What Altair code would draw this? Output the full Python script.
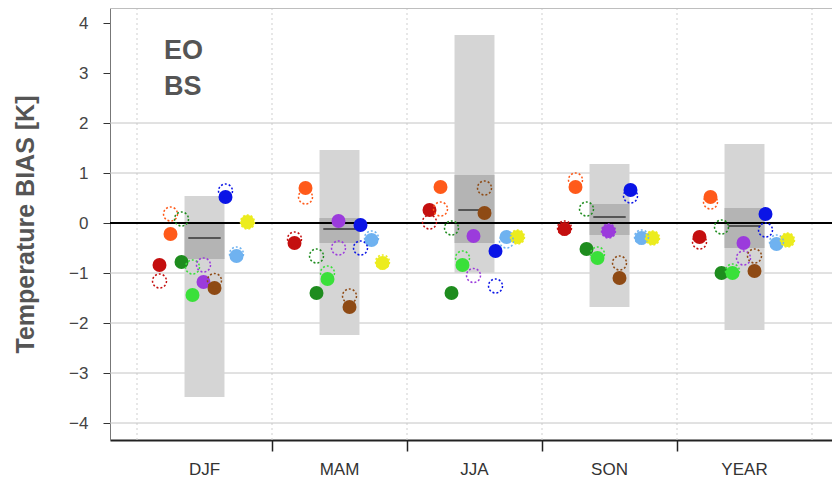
import altair as alt
import pandas as pd

seasons = ["DJF", "MAM", "JJA", "SON", "YEAR"]
models = ["m1", "m2", "m3", "m4", "m5", "m6", "m7", "m8", "m9"]
model_colors = ["#c40f0f", "#ff5a1a", "#1e8c1e", "#3ae03a", "#9b3bdc",
                "#8e4a14", "#0a14e6", "#6fb2f0", "#ecec1e"]

# filled circles (per model, per season)
filled = {
    "m1": [-0.84, -0.40, 0.26, -0.12, -0.28],
    "m2": [-0.22, 0.70, 0.72, 0.72, 0.52],
    "m3": [-0.78, -1.40, -1.40, -0.52, -1.00],
    "m4": [-1.44, -1.12, -0.84, -0.70, -1.00],
    "m5": [-1.18, 0.04, -0.26, -0.16, -0.40],
    "m6": [-1.30, -1.68, 0.20, -1.10, -0.96],
    "m7": [0.52, -0.04, -0.56, 0.66, 0.18],
    "m8": [-0.66, -0.34, -0.28, -0.30, -0.42],
    "m9": [0.02, -0.80, -0.28, -0.30, -0.34],
}
# open (dashed) circles
opened = {
    "m1": [-1.16, -0.32, 0.02, -0.10, -0.38],
    "m2": [0.18, 0.52, 0.28, 0.86, 0.42],
    "m3": [0.08, -0.66, -0.10, 0.28, -0.08],
    "m4": [-0.88, -1.00, -0.70, -0.62, -0.96],
    "m5": [-0.84, -0.50, -1.05, -0.16, -0.70],
    "m6": [-1.15, -1.46, 0.70, -0.80, -0.66],
    "m7": [0.64, -0.50, -1.26, 0.54, -0.14],
    "m8": [-0.62, -0.30, -0.36, -0.28, -0.38],
    "m9": [0.02, -0.78, -0.28, -0.30, -0.34],
}

# ensemble box statistics
box_lo = [-3.48, -2.24, -1.00, -1.68, -2.14]
box_hi = [0.54, 1.46, 3.76, 1.18, 1.58]
box_q1 = [-0.72, -0.40, -0.40, -0.24, -0.50]
box_q3 = [-0.02, 0.10, 0.96, 0.38, 0.30]
box_med = [-0.30, -0.12, 0.26, 0.12, -0.06]

y_ticks = [-4, -3, -2, -1, 0, 1, 2, 3, 4]
grid_y = [2, 1, -1, -2, -3, -4]

# ---- build tables ----
rows = []
for k, m in enumerate(models):
    off = (-45 + 11 * k) / 135.0
    for i, s in enumerate(seasons):
        rows.append({"model": m, "season": s, "x": i + off, "v": filled[m][i], "kind": "filled"})
        rows.append({"model": m, "season": s, "x": i + off, "v": opened[m][i], "kind": "open"})
pts = pd.DataFrame(rows)

half = 0.148
boxes = pd.DataFrame({
    "i": list(range(len(seasons))),
    "lo": box_lo, "hi": box_hi, "q1": box_q1, "q3": box_q3, "med": box_med,
})
boxes["x1"] = boxes["i"] - half
boxes["x2"] = boxes["i"] + half
boxes["m1"] = boxes["i"] - 0.12
boxes["m2"] = boxes["i"] + 0.12

labels = pd.DataFrame({"i": list(range(len(seasons))), "s": seasons})
vgrid = pd.DataFrame({"x": [-0.5, 0.5, 1.5, 2.5, 3.5, 4.5]})
hgrid = pd.DataFrame({"y": grid_y})

XD = [-0.7, -0.7 + 722 / 135.0]
YD = [-4.34, 4.3]
xs = alt.Scale(domain=XD, nice=False, zero=False)
ys = alt.Scale(domain=YD, nice=False, zero=False)

FONT = "Liberation Sans"

base_x = alt.X("x:Q", scale=xs,
               axis=alt.Axis(values=[0.5, 1.5, 2.5, 3.5], labels=False, title=None,
                             tickSize=11, tickColor="#222", tickWidth=1.5,
                             domainColor="#222", domainWidth=2, grid=False))

vlines = alt.Chart(vgrid).mark_rule(color="#cfcfcf", strokeDash=[2, 3], strokeWidth=1).encode(
    x=base_x
)
hlines = alt.Chart(hgrid).mark_rule(color="#c4c4c4", strokeWidth=1).encode(
    y=alt.Y("y:Q", scale=ys,
            axis=alt.Axis(values=y_ticks, tickSize=7, tickColor="#333", tickWidth=1,
                          domainColor="#777", domainWidth=1, grid=False,
                          labelFontSize=17, labelColor="#444", labelFont=FONT,
                          labelPadding=15,
                          title="Temperature BIAS [K]", titleFontSize=25,
                          titleFont=FONT, titleFontWeight="bold", titleColor="#555",
                          titlePadding=30))
)
topline = alt.Chart(hgrid).mark_rule(color="#bdbdbd", strokeWidth=1).encode(
    y=alt.value(0)
)

box_outer = alt.Chart(boxes).mark_rect(color="#d5d5d5").encode(
    x=alt.X("x1:Q", scale=xs), x2="x2:Q",
    y=alt.Y("lo:Q", scale=ys), y2="hi:Q",
)
box_inner = alt.Chart(boxes).mark_rect(color="#b4b4b4").encode(
    x=alt.X("x1:Q", scale=xs), x2="x2:Q",
    y=alt.Y("q1:Q", scale=ys), y2="q3:Q",
)
box_med_line = alt.Chart(boxes).mark_rule(color="#555555", strokeWidth=2).encode(
    x=alt.X("m1:Q", scale=xs), x2="m2:Q",
    y=alt.Y("med:Q", scale=ys),
)

zero = alt.Chart(pd.DataFrame({"y": [0]})).mark_rule(color="#000", strokeWidth=2).encode(
    y=alt.Y("y:Q", scale=ys)
)

color = alt.Color("model:N", scale=alt.Scale(domain=models, range=model_colors), legend=None)

filled_pts = alt.Chart(pts).transform_filter(alt.datum.kind == "filled").mark_circle(
    size=195, opacity=1
).encode(
    x=alt.X("x:Q", scale=xs), y=alt.Y("v:Q", scale=ys), color=color
)
open_pts = alt.Chart(pts).transform_filter(alt.datum.kind == "open").mark_point(
    shape="circle", filled=False, size=195, strokeWidth=1.5, strokeDash=[2, 2], opacity=1
).encode(
    x=alt.X("x:Q", scale=xs), y=alt.Y("v:Q", scale=ys), color=color
)

season_text = alt.Chart(labels).mark_text(
    fontSize=17, font=FONT, color="#333", baseline="middle", align="center"
).encode(
    x=alt.X("i:Q", scale=xs), y=alt.value(462), text="s:N"
)

eo = alt.Chart(pd.DataFrame({"t": ["EO"]})).mark_text(
    fontSize=27, font=FONT, fontWeight="bold", color="#555", align="left", baseline="alphabetic"
).encode(x=alt.value(54), y=alt.value(51), text="t:N")
bs = alt.Chart(pd.DataFrame({"t": ["BS"]})).mark_text(
    fontSize=27, font=FONT, fontWeight="bold", color="#555", align="left", baseline="alphabetic"
).encode(x=alt.value(54), y=alt.value(87), text="t:N")

chart = alt.layer(
    vlines, hlines, topline, box_outer, box_inner, box_med_line, zero,
    filled_pts, open_pts, season_text, eo, bs
).properties(
    width=722, height=432,
    autosize=alt.AutoSizeParams(type="none"),
    padding={"left": 102, "top": 0, "right": 0, "bottom": 40},
).configure_view(stroke=None).configure(background="white")

chart.save("out.html", embed_options={"renderer": "svg", "actions": False})
